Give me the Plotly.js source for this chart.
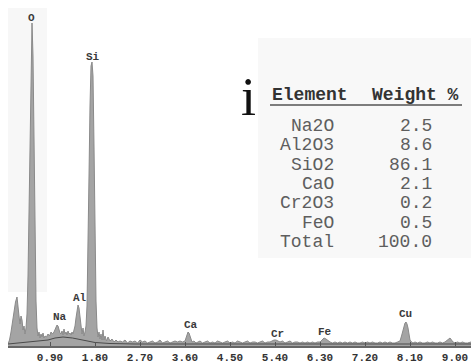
<!DOCTYPE html>
<html>
<head>
<meta charset="utf-8">
<script src="https://cdn.plot.ly/plotly-3.0.1.min.js"></script>
<style>html,body{margin:0;padding:0;background:#fff}#chart{width:471px;height:364px}</style>
</head>
<body>
<div id="chart"></div>
<script>
// ---- Spectrum (energy keV, counts in arbitrary units) ----
const energy = [
0.06,0.09,0.12,0.15,0.18,0.21,0.24,0.26,0.28,0.30,0.32,0.34,0.36,0.38,0.40,0.42,0.44,0.46,0.48,0.50,
0.52,0.54,0.56,0.58,0.60,0.62,0.64,0.66,0.68,0.70,0.72,0.74,0.76,0.78,0.80,0.83,0.86,0.89,0.92,0.95,
0.98,1.00,1.02,1.04,1.06,1.08,1.10,1.12,1.14,1.16,1.18,1.20,1.22,1.24,1.26,1.28,1.30,1.32,1.34,1.36,
1.38,1.40,1.42,1.44,1.46,1.48,1.50,1.52,1.54,1.56,1.58,1.60,1.62,1.64,1.66,1.68,1.70,1.72,1.74,1.76,
1.78,1.80,1.82,1.84,1.86,1.88,1.90,1.92,1.94,1.96,1.98,2.00,2.03,2.06,2.10,2.14,2.18,2.22,2.26,2.30,
2.35,2.40,2.45,2.50,2.55,2.60,2.65,2.70,2.75,2.80,2.85,2.90,2.95,3.00,3.05,3.10,3.15,3.20,3.25,3.30,
3.35,3.40,3.45,3.50,3.55,3.60,3.62,3.64,3.66,3.68,3.70,3.72,3.74,3.78,3.82,3.86,3.90,3.95,4.00,4.05,
4.10,4.15,4.20,4.25,4.30,4.35,4.40,4.45,4.50,4.55,4.60,4.65,4.70,4.75,4.80,4.85,4.90,4.95,5.00,5.05,
5.10,5.15,5.20,5.25,5.30,5.34,5.38,5.42,5.46,5.50,5.55,5.60,5.65,5.70,5.75,5.80,5.85,5.90,5.95,6.00,
6.05,6.10,6.15,6.20,6.25,6.30,6.34,6.38,6.42,6.46,6.50,6.55,6.60,6.65,6.70,6.75,6.80,6.85,6.90,6.95,
7.00,7.05,7.10,7.15,7.20,7.25,7.30,7.35,7.40,7.45,7.50,7.55,7.60,7.65,7.70,7.75,7.80,7.85,7.90,7.93,
7.96,7.98,8.00,8.02,8.04,8.06,8.08,8.10,8.13,8.16,8.20,8.25,8.30,8.35,8.40,8.45,8.50,8.55,8.60,8.65,
8.70,8.75,8.80,8.84,8.87,8.90,8.93,8.96,9.00,9.05,9.10,9.15,9.20,9.25,9.32
];
const counts = [
2,6,14,26,38,44,49,42,30,22,30,26,16,20,12,18,32,70,140,230,
300,323,290,200,110,45,18,10,14,8,12,9,13,8,10,9,12,10,14,12,
14,16,19,21,20,16,13,12,15,11,17,12,14,11,15,12,13,11,14,12,
16,20,28,36,41,38,28,16,12,18,10,14,20,40,90,170,240,280,284,270,
200,110,45,18,9,14,7,12,6,16,6,10,5,9,5,7,4,6,4,5,
4,6,3,5,4,5,3,6,4,5,3,4,5,3,4,6,3,4,5,3,
4,5,4,5,4,5,8,12,14,13,10,6,4,5,3,4,5,3,4,5,
3,4,3,5,4,3,4,5,3,4,3,5,4,3,4,5,3,4,4,3,
4,5,3,4,4,5,6,6,5,4,5,3,4,5,3,4,4,3,4,3,
4,3,4,3,4,4,6,8,7,5,4,3,4,3,4,3,4,3,4,3,
4,3,3,4,3,4,3,4,3,3,4,3,4,3,4,3,3,4,5,10,
16,20,23,24,22,18,10,6,4,3,4,3,4,3,3,4,3,4,3,3,
4,3,4,6,7,8,6,4,3,4,3,4,3,3,4
];
// background (continuum) fit line
const bgEnergy = [0.06,0.30,0.60,0.86,1.00,1.16,1.35,1.60,1.80,2.10,2.60,4.00,6.00,8.00,9.32];
const bgCounts = [2,3,4.5,6,8,9,8,5.5,3.5,2.5,2,2,2,2,2];

// peak labels
const peakNames  = ['O','Si','Na','Al','Ca','Cr','Fe','Cu'];
const peakEnergy = [0.52,1.76,1.10,1.50,3.72,5.44,6.40,8.00];
const peakLabelY = [323,284,24,43,16,7,9,27];

// x-axis ticks
const tickVals = [0.9,1.8,2.7,3.6,4.5,5.4,6.3,7.2,8.1,9.0];
const tickText = ['0.90','1.80','2.70','3.60','4.50','5.40','6.30','7.20','8.10','9.00'];

// composition table
const tableHeader = ['Element','Weight %'];
const elements = ['Na2O','Al2O3','SiO2','CaO','Cr2O3','FeO','Total'];
const weights  = ['2.5','8.6','86.1','2.1','0.2','0.5','100.0'];

// --- pixel helpers for overlay positions (plot area: x 8..471, y 0..346) ---
const PL = 8, PW = 463, PH = 346;
const px = v => (v - PL) / PW;
const py = v => (PH - v) / PH;

const mono = 'Liberation Mono, Courier New, monospace';
const annotations = [];
peakNames.forEach((n, i) => annotations.push({
  x: peakEnergy[i], y: peakLabelY[i], xref: 'x', yref: 'y', text: n, showarrow: false,
  yanchor: 'bottom', yshift: -3, font: {family: mono, size: 11, color: '#3a3a3a', weight: 'bold'}
}));
annotations.push({x: px(270), y: py(95), xref: 'paper', yref: 'paper', text: tableHeader[0],
  showarrow: false, xanchor: 'left', yanchor: 'middle', font: {family: mono, size: 18, color: '#333', weight: 'bold'}});
annotations.push({x: px(370), y: py(95), xref: 'paper', yref: 'paper', text: tableHeader[1],
  showarrow: false, xanchor: 'left', yanchor: 'middle', font: {family: mono, size: 18, color: '#333', weight: 'bold'}});
elements.forEach((e, i) => {
  const yy = 126 + 19.3 * i;
  annotations.push({x: px(336), y: py(yy), xref: 'paper', yref: 'paper', text: e, showarrow: false,
    xanchor: 'right', yanchor: 'middle', font: {family: mono, size: 18, color: '#5e5e5e'}});
  annotations.push({x: px(434), y: py(yy), xref: 'paper', yref: 'paper', text: weights[i], showarrow: false,
    xanchor: 'right', yanchor: 'middle', font: {family: mono, size: 18, color: '#5e5e5e'}});
});
annotations.push({x: px(248), y: py(97), xref: 'paper', yref: 'paper', text: 'i', showarrow: false,
  xanchor: 'center', yanchor: 'middle', font: {family: 'Liberation Serif, Times New Roman, serif', size: 54, color: '#111'}});

const shapes = [
  {type: 'rect', xref: 'paper', yref: 'paper', x0: px(258), x1: 1, y0: py(258), y1: py(38),
   fillcolor: '#f8f8f8', line: {width: 0}, layer: 'below'},
  {type: 'rect', xref: 'paper', yref: 'paper', x0: 0, x1: px(47), y0: py(292), y1: py(8),
   fillcolor: '#f7f7f7', line: {width: 0}, layer: 'below'},
  {type: 'line', xref: 'paper', yref: 'paper', x0: px(270), x1: px(462), y0: py(105), y1: py(105),
   line: {color: '#555', width: 1.5}}
];

const data = [
  {x: energy, y: counts, type: 'scatter', mode: 'lines', fill: 'tozeroy',
   fillcolor: '#a4a4a4', line: {color: '#8a8a8a', width: 1}, hoverinfo: 'skip'},
  {x: bgEnergy, y: bgCounts, type: 'scatter', mode: 'lines', line: {color: '#4a4a4a', width: 1}, hoverinfo: 'skip'}
];

const layout = {
  width: 471, height: 364, margin: {l: 8, r: 0, t: 0, b: 18},
  paper_bgcolor: '#fff', plot_bgcolor: 'rgba(0,0,0,0)', showlegend: false,
  xaxis: {range: [0.06, 9.32], tickvals: tickVals, ticktext: tickText, showline: true,
    linecolor: '#666', linewidth: 2, ticks: 'inside', ticklen: 4, tickcolor: '#555', tickwidth: 1,
    ticklabelstandoff: 0,
    tickfont: {family: mono, size: 11, color: '#333', weight: 'bold'}, showgrid: false, zeroline: false},
  yaxis: {range: [0, 346], visible: false, showgrid: false, zeroline: false},
  annotations: annotations, shapes: shapes
};
Plotly.newPlot('chart', data, layout, {displayModeBar: false, staticPlot: true});
</script>
</body>
</html>
